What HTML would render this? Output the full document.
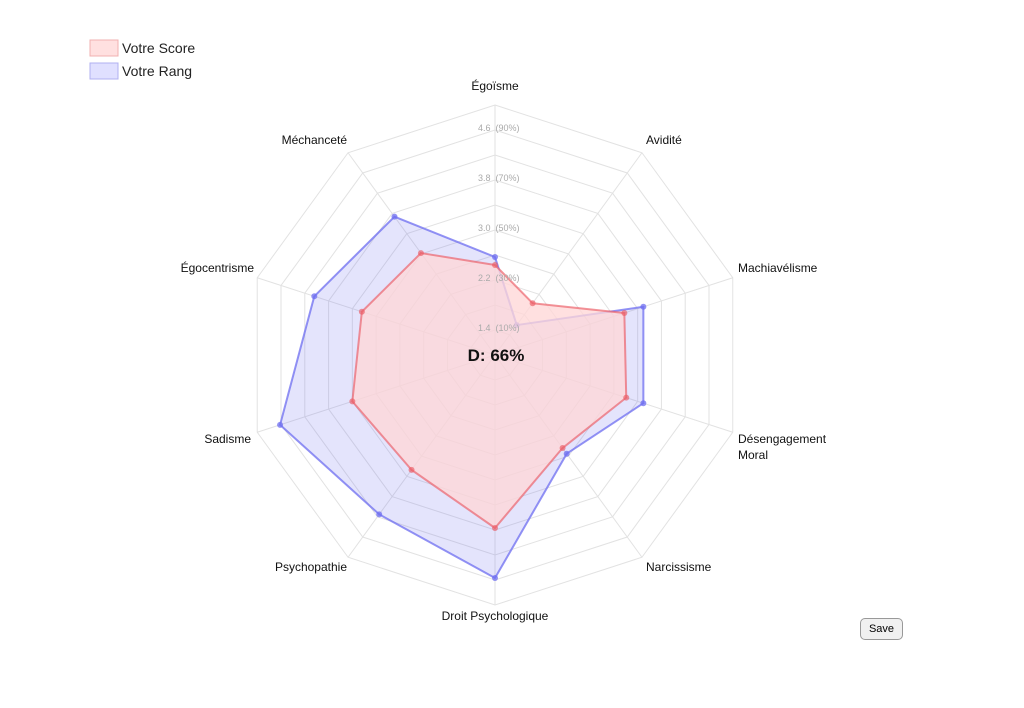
<!DOCTYPE html>
<html><head><meta charset="utf-8">
<style>
html,body{margin:0;padding:0;background:#fff;width:1024px;height:708px;overflow:hidden;font-family:"Liberation Sans",sans-serif;}
svg{position:absolute;left:0;top:0}
.btn{position:absolute;left:860px;top:618px;width:41px;height:20px;border:1px solid #999;border-radius:5px;background:#f0f0f0;font-size:11px;line-height:20px;text-align:center;color:#000}
</style></head><body>
<svg id="s" width="1024" height="708" xmlns="http://www.w3.org/2000/svg" font-family="Liberation Sans, sans-serif">
<rect x="90" y="40" width="28" height="16" fill="#ffe0e0" stroke="#f0b0b0"/>
<text x="122" y="53" font-size="14" fill="#222">Votre Score</text>
<rect x="90" y="63" width="28" height="16" fill="#e0e0ff" stroke="#b0b0f0"/>
<text x="122" y="76" font-size="14" fill="#222">Votre Rang</text>
<g id="grid"></g>
<g id="data"></g>
<g id="labels" font-size="12" fill="#111">
<text x="495" y="90" text-anchor="middle">Égoïsme</text>
<text x="646" y="144">Avidité</text>
<text x="738" y="272">Machiavélisme</text>
<text x="738" y="443">Désengagement</text>
<text x="738" y="459">Moral</text>
<text x="646" y="571">Narcissisme</text>
<text x="495" y="620" text-anchor="middle">Droit Psychologique</text>
<text x="347" y="571" text-anchor="end">Psychopathie</text>
<text x="251" y="443" text-anchor="end">Sadisme</text>
<text x="254" y="272" text-anchor="end">Égocentrisme</text>
<text x="347" y="144" text-anchor="end">Méchanceté</text>
</g>
<g font-size="9" fill="#aaa">
<text x="478" y="131">4.6 &#160;(90%)</text>
<text x="478" y="181">3.8 &#160;(70%)</text>
<text x="478" y="231">3.0 &#160;(50%)</text>
<text x="478" y="281">2.2 &#160;(30%)</text>
<text x="478" y="331">1.4 &#160;(10%)</text>
</g>
<text x="496" y="361" font-size="17" font-weight="bold" text-anchor="middle" fill="#111">D: 66%</text>
</svg>
<div class="btn">Save</div>
<script>
var cx=495,cy=355;
function pt(i,r){var a=i*36*Math.PI/180;return [cx+r*Math.sin(a),cy-r*Math.cos(a)];}
var g=document.getElementById('grid'),h='';
for(var k=1;k<=10;k++){var p=[];for(var i=0;i<10;i++)p.push(pt(i,k*25).join(','));h+='<polygon points="'+p.join(' ')+'" fill="none" stroke="#e2e2e2" stroke-width="1"/>';}
for(var i=0;i<10;i++){var q=pt(i,250);h+='<line x1="'+cx+'" y1="'+cy+'" x2="'+q[0]+'" y2="'+q[1]+'" stroke="#e2e2e2"/>';}
g.innerHTML=h;
var red=[90,64,136,138,115,173,142,150,140,126];
var blue=[98,37,156,156,122,223,197,226,190,171];
function poly(v,fill,stroke){var p=[],c='';for(var i=0;i<10;i++){var q=pt(i,v[i]);p.push(q.join(','));c+='<circle cx="'+q[0]+'" cy="'+q[1]+'" r="3" fill="'+stroke+'"/>';}
return '<polygon points="'+p.join(' ')+'" fill="'+fill+'" stroke="'+stroke+'" stroke-width="2" stroke-linejoin="round"/>'+c;}
document.getElementById('data').innerHTML=poly(blue,'rgba(120,120,240,0.2)','rgba(110,110,240,0.75)')+poly(red,'rgba(255,215,215,0.78)','rgba(235,90,100,0.65)');
</script>
</body></html>
